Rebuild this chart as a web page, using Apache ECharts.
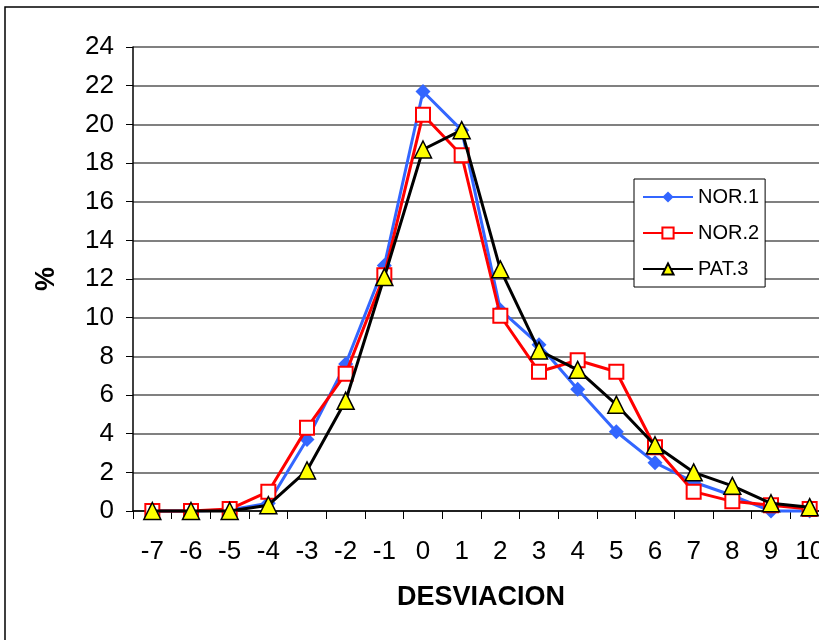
<!DOCTYPE html>
<html>
<head>
<meta charset="utf-8">
<script src="https://cdn.jsdelivr.net/npm/echarts@6/dist/echarts.min.js"></script>
<style>
  html, body { margin: 0; padding: 0; background: #fff; }
  #chart { width: 819px; height: 640px; }
</style>
</head>
<body>
<div id="chart"></div>
<script>
// Deviation categories (x axis)
const desviacion = ['-7', '-6', '-5', '-4', '-3', '-2', '-1', '0', '1', '2', '3', '4', '5', '6', '7', '8', '9', '10'];

// Percentages per group
const nor1 = [0, 0, 0.05, 0.4, 3.7, 7.6, 12.7, 21.7, 19.7, 10.4, 8.6, 6.3, 4.1, 2.5, 1.5, 0.8, 0, 0];
const nor2 = [0, 0, 0.1, 1.0, 4.3, 7.1, 12.2, 20.5, 18.4, 10.1, 7.2, 7.8, 7.2, 3.3, 1.0, 0.5, 0.3, 0.1];
const pat3 = [0, 0, 0, 0.3, 2.1, 5.7, 12.1, 18.7, 19.7, 12.5, 8.3, 7.3, 5.5, 3.4, 2.0, 1.3, 0.4, 0.2];

// Y axis ticks
const yMin = 0, yMax = 24, yStep = 2;

const font = 'Liberation Sans';
const diamond = 'path://M0,-1 L1,0 L0,1 L-1,0 Z';

const chart = echarts.init(document.getElementById('chart'), null, { renderer: 'canvas' });

chart.setOption({
  animation: false,
  backgroundColor: '#ffffff',
  graphic: [{
    type: 'rect',
    shape: { x: 5, y: 7, width: 1000, height: 1000 },
    style: { fill: 'none', stroke: '#000', lineWidth: 1.5 },
    z: -10
  }],
  // plot area runs past the right edge of the page
  grid: { left: 133, top: 47, width: 696, height: 464, containLabel: false, outerBoundsMode: 'none' },
  legend: {
    orient: 'vertical',
    left: 634,
    top: 179,
    padding: [8, 6, 8, 8],
    itemWidth: 50,
    itemHeight: 14,
    itemGap: 16,
    backgroundColor: '#fff',
    borderColor: '#000',
    borderWidth: 1,
    textStyle: { fontFamily: font, fontSize: 20, color: '#000' },
    data: ['NOR.1', 'NOR.2', 'PAT.3']
  },
  xAxis: {
    type: 'category',
    data: desviacion,
    boundaryGap: true,
    name: 'DESVIACION',
    nameLocation: 'middle',
    nameGap: 73,
    nameTextStyle: { fontFamily: font, fontSize: 27, fontWeight: 'bold', color: '#000' },
    axisLine: { lineStyle: { color: '#000', width: 1.5 } },
    axisTick: { show: true, length: 8, alignWithLabel: false, lineStyle: { color: '#000', width: 1 } },
    axisLabel: {
      interval: 0, margin: 28, color: '#000',
      textStyle: { fontFamily: font, fontSize: 26 },
      fontFamily: font, fontSize: 26
    },
    splitLine: { show: false }
  },
  yAxis: {
    type: 'value',
    min: yMin,
    max: yMax,
    interval: yStep,
    name: '%',
    nameLocation: 'middle',
    nameGap: 73,
    nameRotate: 90,
    nameTextStyle: { fontFamily: font, fontSize: 27, fontWeight: 'bold', color: '#000' },
    axisLine: { show: true, lineStyle: { color: '#000', width: 1.5 } },
    axisTick: { show: true, inside: false, length: 7, lineStyle: { color: '#000', width: 1 } },
    axisLabel: {
      margin: 19, color: '#000',
      fontFamily: font, fontSize: 26
    },
    splitLine: { show: true, lineStyle: { color: '#808080', width: 2 } }
  },
  series: [
    {
      name: 'NOR.1',
      type: 'line',
      data: nor1,
      symbol: diamond,
      symbolSize: 15,
      lineStyle: { color: '#3366FF', width: 3 },
      itemStyle: { color: '#3366FF', borderWidth: 0 },
      clip: false,
      z: 2
    },
    {
      name: 'NOR.2',
      type: 'line',
      data: nor2,
      symbol: 'rect',
      symbolSize: 14,
      lineStyle: { color: '#FF0000', width: 3 },
      itemStyle: { color: '#ffffff', borderColor: '#FF0000', borderWidth: 2 },
      clip: false,
      z: 3
    },
    {
      name: 'PAT.3',
      type: 'line',
      data: pat3,
      symbol: 'triangle',
      symbolSize: 17,
      lineStyle: { color: '#000000', width: 3 },
      itemStyle: { color: '#FFFF00', borderColor: '#000000', borderWidth: 1.5 },
      clip: false,
      z: 4
    }
  ]
});
</script>
</body>
</html>
